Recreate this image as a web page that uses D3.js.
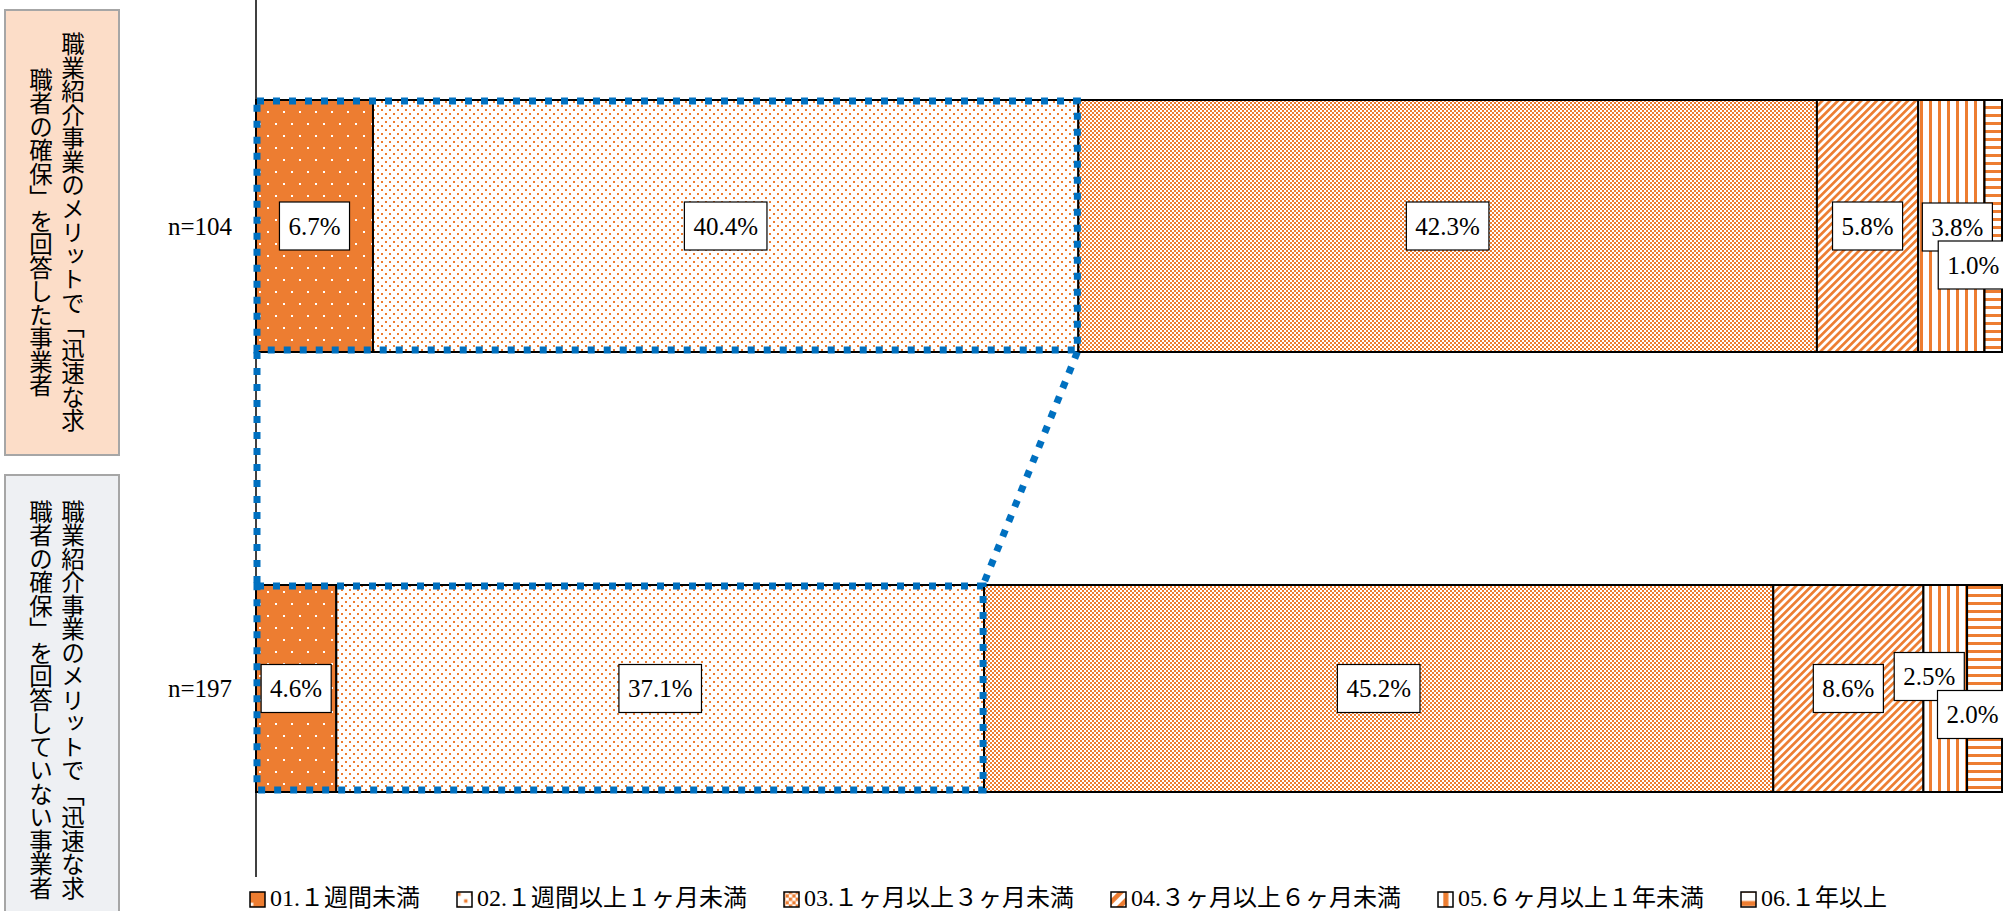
<!DOCTYPE html>
<html><head><meta charset="utf-8">
<script src="https://cdn.jsdelivr.net/npm/d3@7/dist/d3.min.js"></script>
<style>
html,body{margin:0;padding:0;background:#fff;}
svg{display:block;}
</style></head>
<body>
<svg id="chart" width="2003" height="911"></svg>
<script>
// ---------- data ----------
const categories = ["01.１週間未満","02.１週間以上１ヶ月未満","03.１ヶ月以上３ヶ月未満","04.３ヶ月以上６ヶ月未満","05.６ヶ月以上１年未満","06.１年以上"];
const groups = ["n=104","n=197"];
const groupNotes = [
  ["職業紹介事業のメリットで「迅速な求","職者の確保」を回答した事業者"],
  ["職業紹介事業のメリットで「迅速な求","職者の確保」を回答していない事業者"]
];
const valuesAnswered = [6.7, 40.4, 42.3, 5.8, 3.8, 1.0];
const valuesNotAnswered = [4.6, 37.1, 45.2, 8.6, 2.5, 2.0];
const highlightedCategories = [0, 1];

// ---------- layout ----------
const W = 2003, H = 911;
const ORANGE = "#ED7D31", BLUE = "#0070C0";
const serif = "'Liberation Serif','Noto Sans CJK JP',serif";
const cjk = "'Noto Sans CJK JP','Liberation Serif',sans-serif";
const layout = {
  axisX: 256, xEnd: 2002, axisTop: 0, axisBottom: 877,
  rowTops: [100, 585], rowHeights: [252, 207],
  labelNudge: [ {4:[6,1],5:[-20,39]}, {4:[-16,-12],5:[-12,26]} ],
  noteBoxes: [ {x:5,y:10,w:114,h:445,fill:"#FCDDC8"}, {x:5,y:475,w:114,h:450,fill:"#EEF0F3"} ],
  legendX: 250, legendBase: 906, legendGap: 37
};

const svg = d3.select("#chart");
const defs = svg.append("defs");

function pat(id, w, h, bg, draw, transform){
  const p = defs.append("pattern").attr("id", id).attr("patternUnits","userSpaceOnUse")
    .attr("width", w).attr("height", h);
  if (transform) p.attr("patternTransform", transform);
  p.append("rect").attr("width", w).attr("height", h).attr("fill", bg);
  draw(p);
}
function makePatterns(suffix, tf){
  pat("p0"+suffix, 16, 24, ORANGE, p => {
    p.append("rect").attr("x",3).attr("y",3).attr("width",2).attr("height",2).attr("fill","#fff");
    p.append("rect").attr("x",11).attr("y",15).attr("width",2).attr("height",2).attr("fill","#fff");
  }, tf);
  pat("p1"+suffix, 8, 8, "#fff", p => {
    p.append("rect").attr("x",1).attr("y",1).attr("width",2).attr("height",2).attr("fill",ORANGE);
    p.append("rect").attr("x",5).attr("y",5).attr("width",2).attr("height",2).attr("fill",ORANGE);
  }, tf);
  pat("p2"+suffix, 4, 4, "#fff", p => {
    p.append("rect").attr("x",0).attr("y",0).attr("width",2).attr("height",2).attr("fill",ORANGE);
    p.append("rect").attr("x",2).attr("y",2).attr("width",2).attr("height",2).attr("fill",ORANGE);
  }, tf);
  pat("p3"+suffix, 5.5, 5.5, "#fff", p => {
    p.append("rect").attr("x",0).attr("y",0).attr("width",2.7).attr("height",5.5).attr("fill",ORANGE);
  }, (tf ? tf + " " : "") + "rotate(45)");
  pat("p4"+suffix, 9, 9, "#fff", p => {
    p.append("rect").attr("x",3).attr("y",0).attr("width",3).attr("height",9).attr("fill",ORANGE);
  }, tf);
  pat("p5"+suffix, 8, 8, "#fff", p => {
    p.append("rect").attr("x",0).attr("y",2).attr("width",8).attr("height",3).attr("fill",ORANGE);
  }, tf);
}
makePatterns("", null);
makePatterns("L", "scale(1.7)");

const x = d3.scaleLinear().domain([0, 100]).range([layout.axisX, layout.xEnd]);
const yTop = d3.scaleOrdinal().domain(groups).range(layout.rowTops);
const yH = d3.scaleOrdinal().domain(groups).range(layout.rowHeights);

const seriesByGroup = [valuesAnswered, valuesNotAnswered];
const rows = groups.map((g, gi) => {
  let acc = 0;
  return seriesByGroup[gi].map((v, ci) => {
    const seg = {g, gi, ci, v, x0: acc, x1: acc + v};
    acc += v;
    return seg;
  });
});

// note boxes on the left
layout.noteBoxes.forEach((b, i) => {
  svg.append("rect").attr("x", b.x).attr("y", b.y).attr("width", b.w).attr("height", b.h)
    .attr("fill", b.fill).attr("stroke", "#A6A6A6").attr("stroke-width", 2);
  const cy = b.y + b.h / 2;
  groupNotes[i].forEach((line, li) => {
    svg.append("text")
      .attr("x", li === 0 ? 73 : 41).attr("y", cy)
      .attr("text-anchor", "middle")
      .style("writing-mode", "vertical-rl")
      .attr("font-family", cjk).attr("font-size", 23.5).attr("fill", "#000")
      .text(line);
  });
});

// axis line
svg.append("line").attr("x1", layout.axisX).attr("x2", layout.axisX)
  .attr("y1", layout.axisTop).attr("y2", layout.axisBottom)
  .attr("stroke", "#000").attr("stroke-width", 1.5);

// group labels
groups.forEach((g, gi) => {
  svg.append("text").attr("x", 232).attr("y", yTop(g) + yH(g) / 2)
    .attr("text-anchor", "end").attr("dominant-baseline", "central")
    .attr("font-family", serif).attr("font-size", 25).attr("fill", "#000").text(g);
});

// bars
rows.forEach(row => {
  svg.append("g").selectAll("rect").data(row).join("rect")
    .attr("x", d => x(d.x0)).attr("width", d => x(d.x1) - x(d.x0))
    .attr("y", d => yTop(d.g)).attr("height", d => yH(d.g))
    .attr("fill", d => `url(#p${d.ci})`)
    .attr("stroke", "#000").attr("stroke-width", 2);
});

// blue dotted highlight
const hl = rows.map(row => {
  const last = row[highlightedCategories[highlightedCategories.length - 1]];
  return {x0: x(0), x1: x(last.x1), y0: yTop(last.g), y1: yTop(last.g) + yH(last.g)};
});
const dash = {stroke: BLUE, "stroke-width": 7, "stroke-dasharray": "7 9", fill: "none"};
function styleDash(sel){ Object.entries(dash).forEach(([k, v]) => sel.attr(k, v)); return sel; }
hl.forEach(r => {
  styleDash(svg.append("rect").attr("x", r.x0 + 1).attr("y", r.y0 + 1)
    .attr("width", r.x1 - r.x0 - 2).attr("height", r.y1 - r.y0 - 3));
});
styleDash(svg.append("line").attr("x1", hl[0].x0 + 1).attr("y1", hl[0].y1).attr("x2", hl[1].x0 + 1).attr("y2", hl[1].y0));
styleDash(svg.append("line").attr("x1", hl[0].x1 - 1).attr("y1", hl[0].y1).attr("x2", hl[1].x1 - 1).attr("y2", hl[1].y0));

// value labels
rows.forEach((row, gi) => {
  row.forEach(d => {
    const nudge = layout.labelNudge[gi][d.ci] || [0, 0];
    const cx = (x(d.x0) + x(d.x1)) / 2 + nudge[0];
    const cy = yTop(d.g) + yH(d.g) / 2 + nudge[1];
    const g = svg.append("g");
    const r = g.append("rect");
    const t = g.append("text").attr("x", cx).attr("y", cy)
      .attr("text-anchor", "middle").attr("dominant-baseline", "central")
      .attr("font-family", serif).attr("font-size", 25).attr("fill", "#000")
      .text(d.v.toFixed(1) + "%");
    const w = t.node().getComputedTextLength() + 18;
    r.attr("x", cx - w / 2).attr("y", cy - 24).attr("width", w).attr("height", 48)
      .attr("fill", "#fff").attr("stroke", "#000").attr("stroke-width", 1.2);
  });
});

// legend
let lx = layout.legendX;
categories.forEach((c, ci) => {
  svg.append("rect").attr("x", lx).attr("y", layout.legendBase - 14).attr("width", 15).attr("height", 15)
    .attr("fill", `url(#p${ci}L)`).attr("stroke", "#000").attr("stroke-width", 1.5);
  const t = svg.append("text").attr("x", lx + 20).attr("y", layout.legendBase)
    .attr("font-family", serif).attr("font-size", 24).attr("fill", "#000").text(c);
  lx += 20 + t.node().getComputedTextLength() + layout.legendGap;
});
</script>
</body></html>
